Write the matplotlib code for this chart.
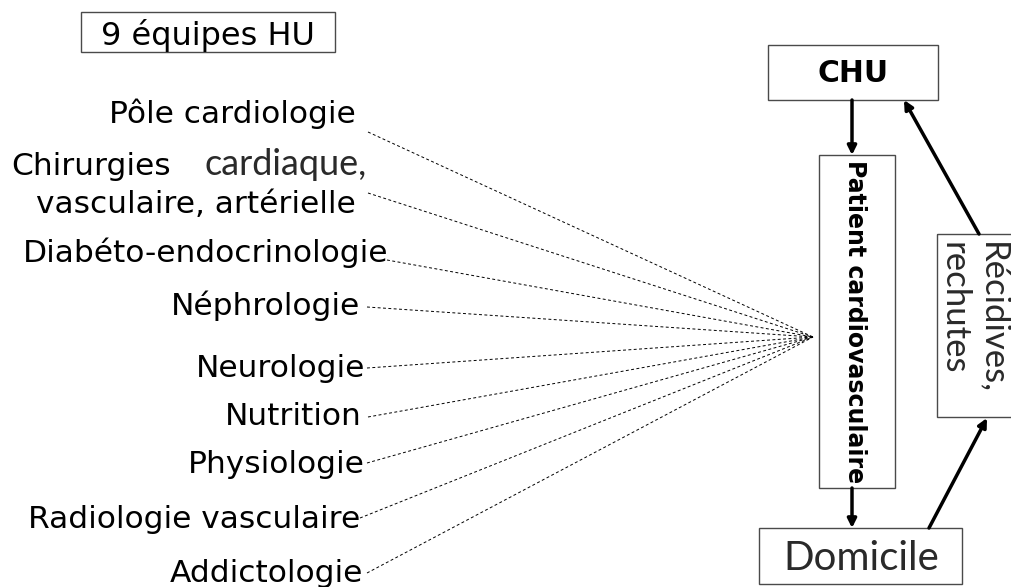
import matplotlib
matplotlib.use("Agg")
import matplotlib.pyplot as plt
from matplotlib.patches import Rectangle

# ---- content ----
title_label = "9 équipes HU"
teams = ["Pôle cardiologie", "Chirurgies cardiaque,\nvasculaire, artérielle",
         "Diabéto-endocrinologie", "Néphrologie", "Neurologie", "Nutrition",
         "Physiologie", "Radiologie vasculaire", "Addictologie"]
hub_label = "CHU"
patient_label = "Patient cardiovasculaire"
home_label = "Domicile"
relapse_label = "Récidives,\nrechutes"

# ---- layout (pixel coordinates) ----
W, H = 1011, 587
team_baseline = [123, None, 262, 315, 377, 425, 473, 528, 582]
team_right = [356, None, 388, 360, 365, 362, 365, 360, 363]
line_start = [(368, 132), (368, 193), (387, 260), (367, 307), (367, 368),
              (368, 417), (367, 463), (360, 518), (367, 573)]
hub_point = (813, 337)

REG = "DejaVu Sans"
THIN = ["Lato", "DejaVu Sans"]
THIN_W = "normal"
THIN_C = "#2a2a2a"
FS = 22.5

fig = plt.figure(figsize=(W / 100, H / 100), dpi=100)
ax = fig.add_axes([0, 0, 1, 1])
ax.set_xlim(0, W)
ax.set_ylim(H, 0)
ax.axis("off")

box_kw = dict(fill=False, edgecolor="#4a4a4a", lw=1.0)

# title box
ax.add_patch(Rectangle((81, 12), 254, 40, **box_kw))
ax.text(208, 45, title_label, ha="center", va="baseline", fontsize=23, family=REG)

# team labels
for i, name in enumerate(teams):
    if i == 1:
        first, second = name.split("\n")
        w1, w2 = first.split(" ")
        ax.text(11, 175, w1, ha="left", va="baseline", fontsize=FS, family=REG)
        ax.text(367, 175, w2, ha="right", va="baseline", fontsize=26,
                family=THIN, fontweight=THIN_W, color=THIN_C)
        ax.text(356, 213, second, ha="right", va="baseline", fontsize=FS, family=REG)
    else:
        ax.text(team_right[i], team_baseline[i], name, ha="right", va="baseline",
                fontsize=FS, family=REG)

# dashed connectors
for (x0, y0) in line_start:
    ax.plot([x0, hub_point[0]], [y0, hub_point[1]], color="black", lw=0.7,
            linestyle=(0, (3, 2.5)))

# CHU box
ax.add_patch(Rectangle((768, 45), 170, 55, **box_kw))
ax.text(853, 73, hub_label, ha="center", va="center", fontsize=21.5,
        family=REG, fontweight="bold")

# Patient box
ax.add_patch(Rectangle((819, 155), 76, 333, **box_kw))
ax.text(855, 322, patient_label, ha="center", va="center", rotation=-90,
        fontsize=17, family=REG, fontweight="bold")

# Domicile box
ax.add_patch(Rectangle((759, 528), 203, 56, **box_kw))
ax.text(861, 559, home_label, ha="center", va="center", fontsize=29,
        family=THIN, fontweight=THIN_W, color=THIN_C)

# Récidives box
ax.add_patch(Rectangle((937, 234), 80, 183, **box_kw))
ax.text(973, 242, relapse_label, ha="center", va="top", rotation=-90,
        fontsize=25, family=THIN, fontweight=THIN_W, color=THIN_C,
        linespacing=1.3, multialignment="left")

arrow_kw = dict(arrowstyle="-|>", lw=2.5, color="black", mutation_scale=13,
                shrinkA=0, shrinkB=0)

def arrow(p0, p1):
    ax.annotate("", xy=p1, xytext=p0, arrowprops=arrow_kw)

arrow((852, 100), (852, 155))
arrow((852, 488), (852, 528))
arrow((929, 528), (987, 418))
arrow((979, 234), (904, 100))

fig.savefig("out.png", dpi=100)
